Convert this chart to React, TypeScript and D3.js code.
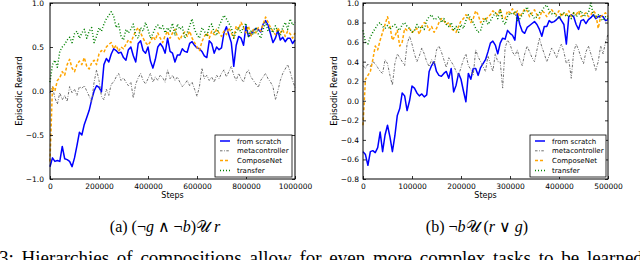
import * as d3 from "d3";
import { useEffect, useRef } from "react";

// steps are logged at a fixed interval in both runs
const leftSteps = d3.range(0, 1000001, 10000);
const rightSteps = d3.range(0, 500001, 5000);

const seriesNames = ["from scratch", "metacontroller", "ComposeNet", "transfer"];

// (a) (¬g ∧ ¬b) U r
const leftScratch = [
  -0.86, -0.76, -0.8, -0.79, -0.8, -0.63, -0.77, -0.78, -0.8, -0.86,
  -0.76, -0.62, -0.47, -0.5, -0.38, -0.3, -0.22, -0.1, 0.0, 0.06,
  0.04, -0.01, 0.3, 0.37, 0.33, 0.42, 0.48, 0.46, 0.43, 0.44,
  0.38, 0.35, 0.47, 0.5, 0.4, 0.33, 0.54, 0.57, 0.46, 0.43,
  0.5, 0.34, 0.26, 0.36, 0.5, 0.54, 0.5, 0.43, 0.6, 0.45,
  0.43, 0.33, 0.41, 0.41, 0.48, 0.45, 0.44, 0.54, 0.56, 0.52,
  0.49, 0.48, 0.45, 0.4, 0.38, 0.57, 0.54, 0.43, 0.5, 0.47,
  0.49, 0.66, 0.73, 0.64, 0.55, 0.28, 0.52, 0.62, 0.6, 0.52,
  0.74, 0.62, 0.64, 0.69, 0.71, 0.7, 0.67, 0.76, 0.8, 0.75,
  0.65, 0.55, 0.6, 0.69, 0.58, 0.61, 0.56, 0.6, 0.6, 0.54,
  0.58,
];
const leftMeta = [
  -0.02, 0.05, -0.08, -0.15, -0.02, -0.1, -0.05, -0.12, 0.05, -0.02,
  0.02, -0.05, 0.05, 0.03, 0.06, 0.0, -0.06, -0.12, 0.1, 0.24,
  0.12, -0.06, -0.1, 0.02, -0.05, 0.08, 0.1, 0.16, 0.2, 0.12,
  0.15, 0.1, 0.06, 0.1, -0.08, 0.08, 0.15, 0.2, 0.12, 0.08,
  0.14, 0.2, 0.1, 0.16, 0.12, 0.18, 0.15, 0.1, 0.24, 0.14,
  0.18, 0.12, 0.16, 0.1, 0.05, 0.08, 0.12, 0.06, 0.1, 0.02,
  -0.06, 0.05, 0.26, 0.14, 0.18, 0.12, 0.16, 0.1, 0.18, 0.14,
  0.2, 0.24, 0.16, 0.22, 0.28, 0.18, 0.12, 0.2, 0.14, 0.1,
  0.2, 0.24, 0.16, 0.12, 0.08, 0.04, 0.12, 0.16, 0.2, 0.14,
  0.1, 0.05, -0.1, 0.0, 0.12, 0.2, 0.25, 0.3, 0.22, 0.12,
  0.04,
];
const leftCompose = [
  -0.8, 0.05, 0.0, 0.12, 0.15, 0.22, 0.18, 0.3, 0.36, 0.26,
  0.22, 0.3, 0.34, 0.3, 0.38, 0.28, 0.25, 0.32, 0.35, 0.3,
  0.42, 0.46, 0.44, 0.5, 0.53, 0.55, 0.48, 0.52, 0.45, 0.5,
  0.48, 0.53, 0.58, 0.55, 0.62, 0.68, 0.72, 0.66, 0.6, 0.55,
  0.52, 0.56, 0.62, 0.58, 0.66, 0.6, 0.55, 0.63, 0.68, 0.6,
  0.66, 0.7, 0.62, 0.58, 0.64, 0.67, 0.62, 0.68, 0.6, 0.55,
  0.5, 0.46, 0.56, 0.62, 0.66, 0.6, 0.68, 0.64, 0.7, 0.66,
  0.62, 0.68, 0.64, 0.72, 0.66, 0.6, 0.74, 0.7, 0.78, 0.72,
  0.66, 0.74, 0.62, 0.7, 0.66, 0.72, 0.68, 0.76, 0.84, 0.78,
  0.72, 0.68, 0.64, 0.72, 0.66, 0.7, 0.62, 0.68, 0.65, 0.6,
  0.66,
];
const leftTransfer = [
  0.1, 0.3, 0.35, 0.27, 0.45, 0.5, 0.53, 0.58, 0.61, 0.55,
  0.65, 0.68, 0.6, 0.66, 0.7, 0.6, 0.68, 0.72, 0.55, 0.62,
  0.72, 0.68, 0.76, 0.82, 0.86, 0.9, 0.85, 0.72, 0.76, 0.62,
  0.58, 0.7, 0.66, 0.7, 0.76, 0.63, 0.6, 0.72, 0.68, 0.78,
  0.7, 0.6, 0.65, 0.72, 0.75, 0.7, 0.74, 0.66, 0.72, 0.68,
  0.77, 0.63, 0.76, 0.7, 0.73, 0.6, 0.66, 0.74, 0.82, 0.7,
  0.64, 0.6, 0.72, 0.68, 0.62, 0.73, 0.76, 0.67, 0.63, 0.74,
  0.8, 0.86, 0.82, 0.77, 0.72, 0.6, 0.68, 0.72, 0.66, 0.73,
  0.77, 0.62, 0.68, 0.64, 0.72, 0.65, 0.6, 0.7, 0.78, 0.68,
  0.72, 0.66, 0.74, 0.68, 0.63, 0.72, 0.78, 0.7, 0.82, 0.75,
  0.78,
];

// (b) ¬b U (r ∨ g)
const rightScratch = [
  -0.52, -0.55, -0.66, -0.52, -0.51, -0.53, -0.48, -0.32, -0.52, -0.35,
  -0.25, -0.37, -0.52, -0.36, -0.15, -0.08, 0.08, 0.05, -0.1, 0.0,
  0.15, 0.13, 0.08, 0.05, 0.07, 0.04, 0.06, 0.3, 0.36, 0.4,
  0.3, 0.26, 0.25, 0.28, 0.3, 0.23, 0.33, 0.09, 0.16, 0.28,
  0.22, 0.1, -0.01, 0.28, 0.22, 0.33, 0.33, 0.26, 0.34, 0.38,
  0.42, 0.5, 0.59, 0.61, 0.57, 0.48, 0.59, 0.64, 0.63, 0.72,
  0.69, 0.67, 0.62, 0.89, 0.78, 0.71, 0.69, 0.75, 0.77, 0.79,
  0.81, 0.78, 0.73, 0.66, 0.76, 0.76, 0.82, 0.8, 0.81, 0.83,
  0.86, 0.82, 0.78, 0.58, 0.86, 0.88, 0.86, 0.78, 0.73, 0.82,
  0.83, 0.79, 0.83, 0.85, 0.88, 0.84, 0.86, 0.87, 0.86, 0.82,
  0.83,
];
const rightMeta = [
  0.36, 0.33, 0.38, 0.35, 0.4, 0.38, 0.34, 0.3, 0.28, 0.42,
  0.38, 0.26, 0.16, 0.38, 0.48, 0.44, 0.4, 0.36, 0.58, 0.66,
  0.58, 0.48, 0.4, 0.46, 0.54, 0.48, 0.4, 0.35, 0.42, 0.36,
  0.52, 0.56, 0.5, 0.42, 0.34, 0.44, 0.4, 0.36, 0.3, 0.26,
  0.34, 0.42, 0.48, 0.36, 0.32, 0.26, 0.52, 0.45, 0.4, 0.35,
  0.3, 0.46, 0.38, 0.3, 0.48, 0.4, 0.4, 0.13, 0.54, 0.62,
  0.58, 0.5, 0.46, 0.52, 0.42, 0.36, 0.48, 0.56, 0.5, 0.44,
  0.4, 0.52, 0.64, 0.55, 0.48, 0.4, 0.46, 0.54, 0.5, 0.44,
  0.52, 0.58, 0.5, 0.38, 0.42, 0.23, 0.5, 0.58, 0.52, 0.44,
  0.38, 0.5, 0.56, 0.48, 0.4, 0.31, 0.4, 0.56, 0.48, 0.6,
  0.68,
];
const rightCompose = [
  -0.25, 0.22, 0.26, 0.3, 0.42, 0.56, 0.52, 0.62, 0.7, 0.78,
  0.86, 0.76, 0.62, 0.66, 0.72, 0.56, 0.6, 0.74, 0.72, 0.74,
  0.7, 0.72, 0.74, 0.68, 0.76, 0.8, 0.78, 0.72, 0.76, 0.7,
  0.74, 0.8, 0.84, 0.82, 0.78, 0.8, 0.74, 0.72, 0.7, 0.76,
  0.82, 0.84, 0.88, 0.86, 0.8, 0.84, 0.92, 0.88, 0.8, 0.84,
  0.82, 0.86, 0.88, 0.92, 0.9, 0.88, 0.94, 0.85, 0.84, 0.92,
  0.9, 0.94, 0.88, 0.92, 0.86, 0.9, 0.94, 0.92, 0.86, 0.9,
  0.93, 0.88, 0.84, 0.92, 0.9, 0.86, 0.9, 0.93, 0.9, 0.88,
  0.92, 0.86, 0.9, 0.88, 0.92, 0.86, 0.9, 0.88, 0.92, 0.86,
  0.88, 0.9, 0.86, 0.88, 0.92, 0.89, 0.74, 0.86, 0.88, 0.9,
  0.86,
];
const rightTransfer = [
  0.72, 0.6, 0.58, 0.65, 0.7, 0.74, 0.78, 0.8, 0.76, 0.74,
  0.77, 0.73, 0.76, 0.78, 0.74, 0.72, 0.78, 0.8, 0.76, 0.74,
  0.7, 0.72, 0.78, 0.74, 0.76, 0.73, 0.82, 0.86, 0.88, 0.83,
  0.84, 0.86, 0.8, 0.84, 0.78, 0.76, 0.8, 0.72, 0.76, 0.7,
  0.78, 0.74, 0.82, 0.88, 0.84, 0.8, 0.74, 0.7, 0.72, 0.8,
  0.84, 0.78, 0.82, 0.86, 0.9, 0.84, 0.93, 0.82, 0.78, 0.86,
  0.9, 0.88, 0.91, 0.82, 0.84, 0.88, 0.92, 0.96, 0.9, 0.88,
  0.84, 0.86, 0.9, 0.92, 0.96, 0.98, 0.92, 0.89, 0.9, 0.86,
  0.84, 0.88, 0.9, 0.86, 0.88, 0.84, 0.9, 0.86, 0.88, 0.92,
  0.86, 0.88, 0.9, 1.0, 0.88, 0.86, 0.88, 0.84, 0.82, 0.86,
  0.84,
];

const leftXTicks = [0, 200000, 400000, 600000, 800000, 1000000];
const leftYTicks = [-1.0, -0.5, 0.0, 0.5, 1.0];
const rightXTicks = [0, 100000, 200000, 300000, 400000, 500000];
const rightYTicks = [-0.8, -0.6, -0.4, -0.2, 0.0, 0.2, 0.4, 0.6, 0.8, 1.0];

// matplotlib classic look for the four runs
const styles = [
  { color: "#0000ff", width: 1.5, dash: null },
  { color: "#6e6e6e", width: 1, dash: "2.5,1.5,0.8,1.5" },
  { color: "#ffa500", width: 1.5, dash: "3,2" },
  { color: "#008000", width: 1.5, dash: "1,2" },
];

const sans = "'DejaVu Sans', sans-serif";
const serif = "'Liberation Serif', 'DejaVu Serif', serif";

const Panel = ({ steps, series, xMax, yDomain, xTicks, yTicks, box, labelGap, yLabelX, legend }) => {
  const ref = useRef(null);

  useEffect(() => {
    const g = d3.select(ref.current);
    g.selectAll("*").remove();

    const x = d3.scaleLinear().domain([0, xMax]).range([box.left, box.right]);
    const y = d3.scaleLinear().domain(yDomain).range([box.bottom, box.top]);
    const fmt = d3.format(".1f");

    const line = (vals) =>
      d3
        .line()
        .x((d, i) => x(steps[i]))
        .y((d) => y(d))(vals);

    // curves, drawn in legend order
    series.forEach((vals, i) => {
      const s = styles[i];
      g.append("path")
        .attr("d", line(vals))
        .attr("fill", "none")
        .attr("stroke", s.color)
        .attr("stroke-width", s.width)
        .attr("stroke-dasharray", s.dash)
        .attr("stroke-linejoin", "round");
    });

    // frame
    g.append("rect")
      .attr("x", box.left)
      .attr("y", box.top)
      .attr("width", box.right - box.left)
      .attr("height", box.bottom - box.top)
      .attr("fill", "none")
      .attr("stroke", "#000")
      .attr("stroke-width", 1);

    // inward ticks on all four sides, labels only bottom / left
    const bottom = g
      .append("g")
      .attr("transform", `translate(0,${box.bottom})`)
      .call(d3.axisBottom(x).tickValues(xTicks).tickSize(-3).tickPadding(5).tickFormat(d3.format("d")));
    const left = g
      .append("g")
      .attr("transform", `translate(${box.left},0)`)
      .call(d3.axisLeft(y).tickValues(yTicks).tickSize(-3).tickPadding(labelGap).tickFormat(fmt));
    const top = g
      .append("g")
      .attr("transform", `translate(0,${box.top})`)
      .call(d3.axisTop(x).tickValues(xTicks).tickSize(-3).tickFormat(() => ""));
    const right = g
      .append("g")
      .attr("transform", `translate(${box.right},0)`)
      .call(d3.axisRight(y).tickValues(yTicks).tickSize(-3).tickFormat(() => ""));

    [bottom, left, top, right].forEach((a) => {
      a.select(".domain").remove();
      a.selectAll("line").attr("stroke", "#000").attr("stroke-width", 0.8);
      a.selectAll("text").attr("font-family", sans).attr("font-size", 7.5).attr("fill", "#000");
    });

    const cx = (box.left + box.right) / 2;
    g.append("text")
      .attr("x", cx)
      .attr("y", 198)
      .attr("text-anchor", "middle")
      .attr("font-family", sans)
      .attr("font-size", 8)
      .text("Steps");

    g.append("text")
      .attr("transform", `translate(${yLabelX},${(box.top + box.bottom) / 2}) rotate(-90)`)
      .attr("text-anchor", "middle")
      .attr("font-family", sans)
      .attr("font-size", 8.5)
      .text("Episodic Reward");

    // legend box, lower right
    const lg = g.append("g").attr("transform", `translate(${legend.x},${legend.y})`);
    lg.append("rect")
      .attr("width", legend.w)
      .attr("height", 42)
      .attr("fill", "#fff")
      .attr("stroke", "#000")
      .attr("stroke-width", 0.8);
    seriesNames.forEach((name, i) => {
      const s = styles[i];
      const ry = 6 + i * 9.8;
      lg.append("line")
        .attr("x1", 5)
        .attr("x2", 15)
        .attr("y1", ry)
        .attr("y2", ry)
        .attr("stroke", s.color)
        .attr("stroke-width", s.width)
        .attr("stroke-dasharray", s.dash);
      lg.append("text")
        .attr("x", 22)
        .attr("y", ry + 2.5)
        .attr("font-family", sans)
        .attr("font-size", 7)
        .text(name);
    });
  });

  return <g ref={ref} />;
};

export default function App() {
  return (
    <svg width={640} height={260} style={{ position: "absolute", left: 0, top: 0, background: "#fff" }}>
      <rect width={640} height={260} fill="#fff" />
      <Panel
        steps={leftSteps}
        series={[leftScratch, leftMeta, leftCompose, leftTransfer]}
        xMax={1000000}
        yDomain={[-1.0, 1.0]}
        xTicks={leftXTicks}
        yTicks={leftYTicks}
        box={{ left: 50, right: 295, top: 3, bottom: 179 }}
        labelGap={6}
        yLabelX={22}
        legend={{ x: 215, y: 135, w: 77 }}
      />
      <Panel
        steps={rightSteps}
        series={[rightScratch, rightMeta, rightCompose, rightTransfer]}
        xMax={500000}
        yDomain={[-0.8, 1.0]}
        xTicks={rightXTicks}
        yTicks={rightYTicks}
        box={{ left: 363, right: 608, top: 3, bottom: 179 }}
        labelGap={4}
        yLabelX={337}
        legend={{ x: 530, y: 135, w: 76 }}
      />
      <text x={165} y={232} textAnchor="middle" fontFamily={serif} fontSize={16}>
        (a) (¬<tspan fontStyle="italic">g</tspan> ∧ ¬<tspan fontStyle="italic">b</tspan>)𝒰 <tspan fontStyle="italic">r</tspan>
      </text>
      <text x={477} y={232} textAnchor="middle" fontFamily={serif} fontSize={16}>
        (b) ¬<tspan fontStyle="italic">b</tspan>𝒰 (<tspan fontStyle="italic">r</tspan> ∨ <tspan fontStyle="italic">g</tspan>)
      </text>
      <text x={-1} y={264} fontFamily={serif} fontSize={19} wordSpacing={3}>
        3: Hierarchies of compositions allow for even more complex tasks to be learned
      </text>
    </svg>
  );
}
